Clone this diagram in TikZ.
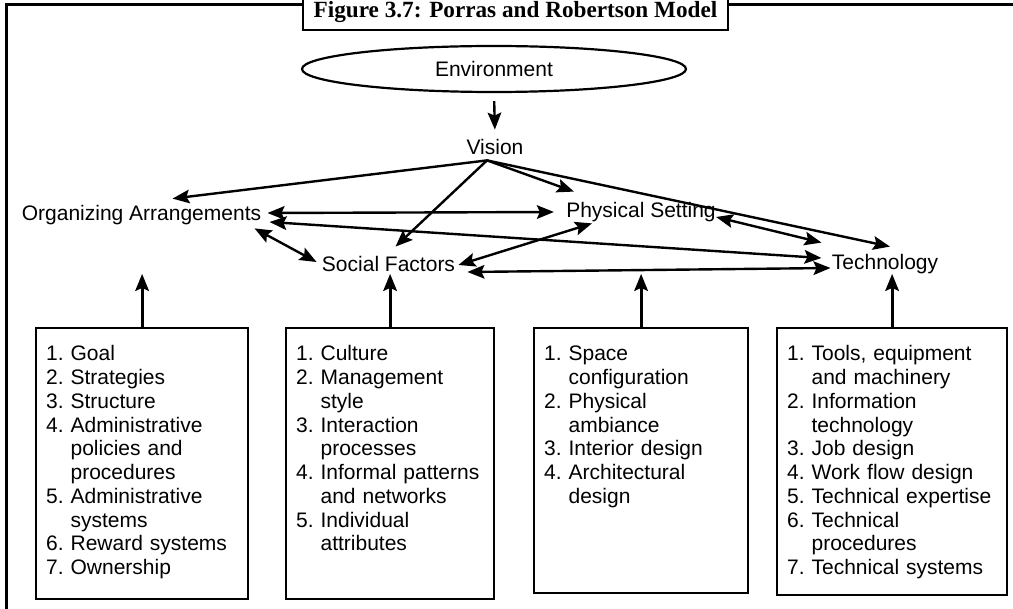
\documentclass[tikz,border=0pt]{standalone}
\usepackage{fontspec}
\setmainfont{Liberation Sans}
\newfontfamily\titlefont{Liberation Serif}
\usetikzlibrary{arrows.meta,shapes.geometric}

\newcommand\lbfont{\fontsize{10.5}{11.9}\selectfont}
\newlength\itmw
\newcommand\itm[2]{\settowidth\itmw{#1\ }\hangindent=\itmw\hangafter=1
  \makebox[\itmw][l]{#1}#2\par}

\begin{document}
\begin{tikzpicture}[x=0.5pt, y=-0.5pt,
    >={Stealth[length=8.5pt,width=6.8pt,inset=1.5pt]},
    lbl/.style={font=\lbfont, text height=7.5pt, text depth=0pt, inner sep=2pt},
    link/.style={line width=1.2pt},
    listbox/.style={draw, line width=1.1pt, anchor=north west, inner xsep=5pt,
      inner ysep=0pt, align=left, font=\lbfont, text height=16.25pt},
    feed/.style={->, line width=1.4pt}]
  \useasboundingbox (0,0) rectangle (1013,609);
  \clip (0,0) rectangle (1013,609);

  % frame and caption
  \draw[line width=1.5pt] (1020,5) -- (6,5) -- (6,620);
  \node[draw, fill=white, line width=1.1pt, minimum width=212.5pt, minimum height=18pt,
    inner sep=0pt, text height=7pt, text depth=1pt,
    font=\titlefont\bfseries\fontsize{11.6}{14}\selectfont] (cap) at (515.5,12)
    {Figure 3.7: Porras and Robertson Model};

  % factors
  \node[draw, ellipse, line width=1.1pt, minimum width=192pt, minimum height=23pt,
    inner sep=0pt, font=\lbfont] (env) at (494,69) {Environment};
  \node[lbl] (vis) at (495,147) {Vision};
  \node[lbl] (org) at (141.5,213) {Organizing Arrangements};
  \node[lbl] (phys) at (641,210) {Physical Setting};
  \node[lbl] (soc) at (388.5,264) {Social Factors};
  \node[lbl] (tech) at (885,262) {Technology};
  \coordinate (vfoot) at ([xshift=-4pt,yshift=-0.75pt]vis.south);

  \draw[link, ->, shorten <=4pt, shorten >=2.75pt] (env.south) -- (vis.north);
  \draw[link, ->] (vfoot) -- ([xshift=15.5pt,yshift=1.25pt]org.north);
  \draw[link, ->] (vfoot) -- ([xshift=3.5pt,yshift=2.75pt]soc.north);
  \draw[link, ->] (vfoot) -- ([xshift=6pt,yshift=3.25pt]phys.north west);
  \draw[link, ->] (vfoot) -- ([xshift=2.5pt,yshift=1.75pt]tech.north);

  \draw[link, <->] ([xshift=1pt]org.east) -- ([xshift=-4pt,yshift=-1pt]phys.west);
  \draw[link, <->] ([xshift=2pt,yshift=-4.5pt]org.east) -- ([xshift=-3pt,yshift=2pt]tech.west);
  \draw[link, <->] ([xshift=-5.5pt,yshift=-1.75pt]org.south east) -- ([xshift=-0.5pt,yshift=1pt]soc.west);
  \draw[link, <->] ([xshift=-0.5pt,yshift=-0.5pt]soc.east) -- ([xshift=-24.5pt,yshift=-0.75pt]phys.south);
  \draw[link, <->] ([xshift=4pt,yshift=-4pt]soc.east) -- ([xshift=1.5pt,yshift=-3pt]tech.west);
  \draw[link, <->] ([xshift=-2pt,yshift=-3.5pt]phys.east) -- ([xshift=-3pt,yshift=3.75pt]tech.north west);

  % lists
  \node[listbox, text width=96pt, text depth=119.25pt] (b1) at (35,327) {%
    \itm{1.}{Goal}\itm{2.}{Strategies}\itm{3.}{Structure}%
    \itm{4.}{Administrative\newline policies and\newline procedures}%
    \itm{5.}{Administrative\newline systems}\itm{6.}{Reward systems}%
    \itm{7.}{Ownership}};
  \node[listbox, text width=94pt, text depth=119.25pt] (b2) at (285,327) {%
    \itm{1.}{Culture}\itm{2.}{Management\newline style}%
    \itm{3.}{Interaction\newline processes}%
    \itm{4.}{Informal patterns\newline and networks}%
    \itm{5.}{Individual\newline attributes}};
  \node[listbox, text width=97pt, text depth=116.25pt] (b3) at (533,327) {%
    \itm{1.}{Space\newline configuration}\itm{2.}{Physical\newline ambiance}%
    \itm{3.}{Interior design}\itm{4.}{Architectural\newline design}};
  \node[listbox, text width=105pt, text depth=117.25pt] (b4) at (776,327) {%
    \itm{1.}{Tools, equipment\newline and machinery}%
    \itm{2.}{Information\newline technology}\itm{3.}{Job design}%
    \itm{4.}{Work flow design}\itm{5.}{Technical expertise}%
    \itm{6.}{Technical\newline procedures}\itm{7.}{Technical systems}};

  \draw[feed] (b1.north) -- (b1.north |- tech.south);
  \draw[feed] (b2.north) -- (b2.north |- tech.south);
  \draw[feed] (b3.north) -- (b3.north |- tech.south);
  \draw[feed] (b4.north) -- (b4.north |- tech.south);
\end{tikzpicture}
\end{document}
